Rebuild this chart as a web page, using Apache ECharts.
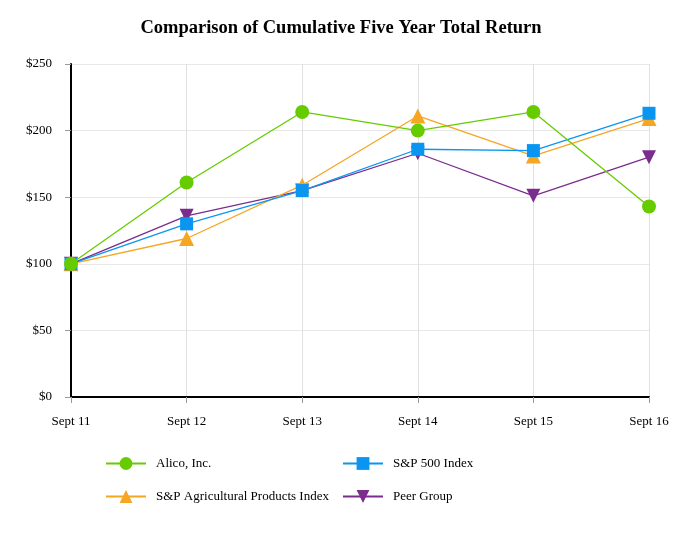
<!DOCTYPE html>
<html>
<head>
<meta charset="utf-8">
<script src="https://cdn.jsdelivr.net/npm/echarts@6/dist/echarts.min.js"></script>
<style>html,body{margin:0;padding:0;background:#fff}#c{width:682px;height:533px}</style>
</head>
<body>
<div id="c"></div>
<script>
var categories = ['Sept 11','Sept 12','Sept 13','Sept 14','Sept 15','Sept 16'];
var alico = [100, 161, 214, 200, 214, 143];
var sp500 = [100, 130, 155, 186, 185, 213];
var spAg = [100, 119, 159, 211, 181, 209];
var peer = [100, 136, 155, 183, 151, 180];
var yTicks = [0, 50, 100, 150, 200, 250];

var FONT = 'Liberation Serif';
var chart = echarts.init(document.getElementById('c'));
function s(name, data, color, symbol, size, z) {
  return {name: name, type: 'line', data: data, symbol: symbol, symbolSize: size,
    z: z, lineStyle: {color: color, width: 1.3}, itemStyle: {color: color}};
}
var legText = {fontFamily: FONT, fontSize: 13, color: '#000', padding: [0, 0, 0, 5]};
chart.setOption({
  animation: false,
  title: {text: 'Comparison of Cumulative Five Year Total Return', left: 'center', top: 14,
    textStyle: {fontFamily: FONT, fontSize: 18.5, fontWeight: 'bold', color: '#000'}},
  grid: {left: 71, right: 33, top: 64, bottom: 136, containLabel: false},
  legend: [
    {data: ['Alico, Inc.', 'S&P Agricultural Products Index'], orient: 'vertical', left: 100, top: 452,
      itemWidth: 40, itemHeight: 16, itemGap: 20, textStyle: legText},
    {data: ['S&P 500 Index', 'Peer Group'], orient: 'vertical', left: 337, top: 452,
      itemWidth: 40, itemHeight: 16, itemGap: 20, textStyle: legText}
  ],
  xAxis: {type: 'category', data: categories, boundaryGap: false,
    axisLine: {lineStyle: {color: '#000', width: 2}},
    axisTick: {show: true, length: 6, lineStyle: {color: '#999'}},
    axisLabel: {fontFamily: FONT, fontSize: 13, color: '#000', margin: 18},
    splitLine: {show: true, lineStyle: {color: '#e0e0e0'}}},
  yAxis: {type: 'value', min: 0, max: 250, interval: 50,
    axisLine: {show: true, lineStyle: {color: '#000', width: 2}},
    axisTick: {show: true, length: 6, lineStyle: {color: '#999'}},
    axisLabel: {fontFamily: FONT, fontSize: 13, color: '#000', margin: 19,
      formatter: function (v) { return yTicks.indexOf(v) >= 0 ? '$' + v : ''; }},
    splitLine: {show: true, lineStyle: {color: '#e8e8e8'}}},
  series: [
    s('Alico, Inc.', alico, '#66cc00', 'circle', 14, 4),
    s('S&P 500 Index', sp500, '#0a96f0', 'rect', 13, 3),
    s('S&P Agricultural Products Index', spAg, '#f5a623', 'triangle', 15, 2),
    s('Peer Group', peer, '#7b2d8e', 'path://M0,0 L10,0 L5,9 Z', 14, 1)
  ]
});
</script>
</body>
</html>
